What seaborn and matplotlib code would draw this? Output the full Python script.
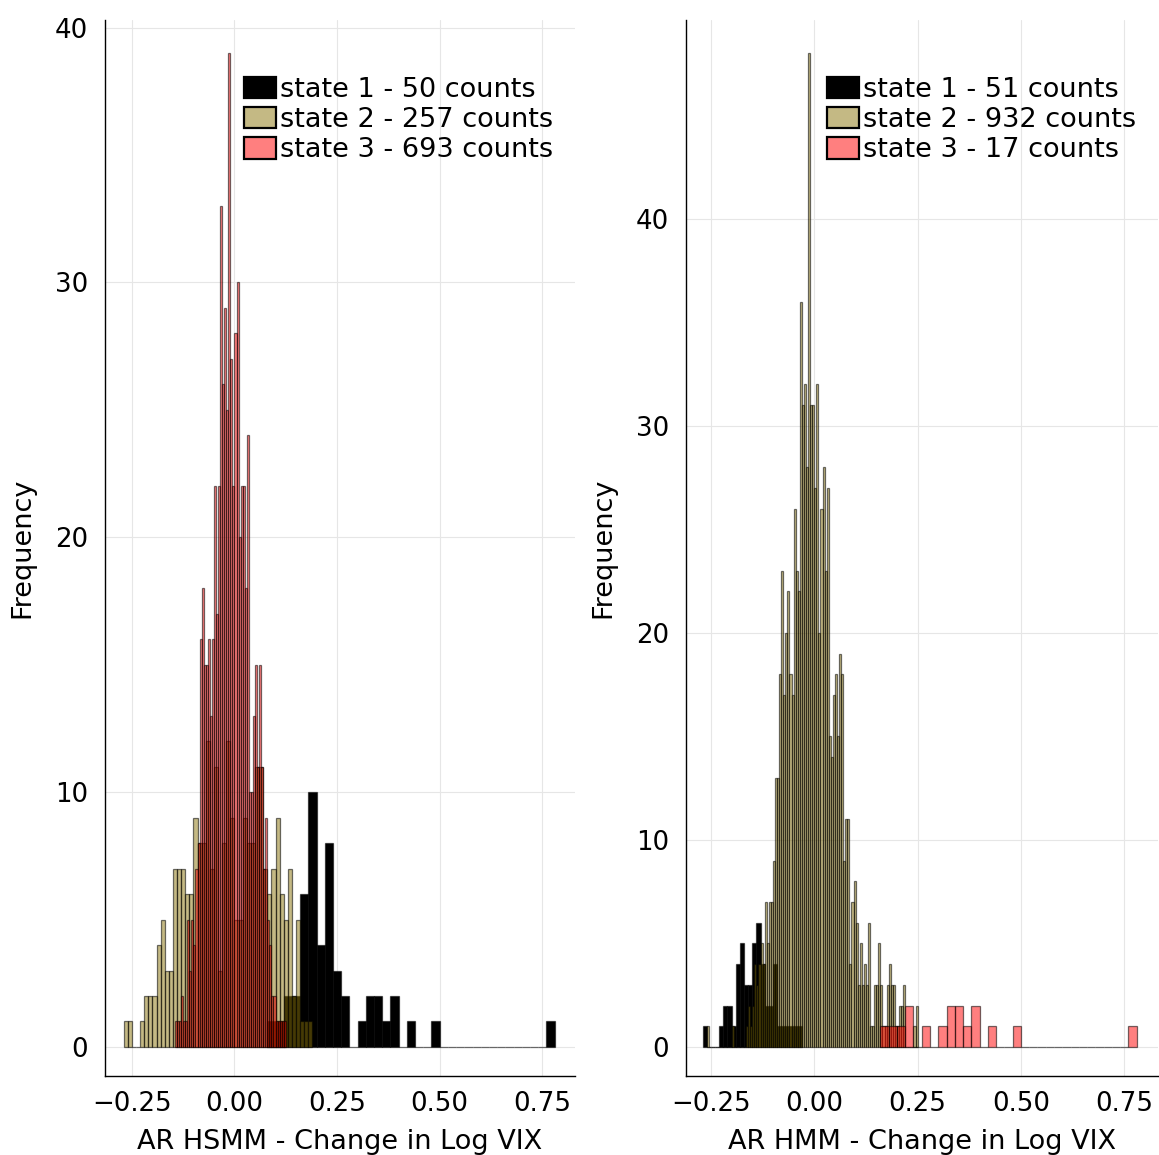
import numpy as np
import pandas as pd
import seaborn as sns
import matplotlib
matplotlib.use("Agg")
import matplotlib.pyplot as plt
from matplotlib.patches import Patch

# ---------------- data (bin starts, widths, counts) ----------------
# Left panel: AR HSMM
hsmm_s1_start, hsmm_s1_width = 0.08, 0.02
hsmm_s1_counts = [1, 1, 2, 2, 6, 10, 4, 8, 3, 2, 0, 1, 2, 2, 1, 2, 0, 1, 0, 0, 1,
                  0, 0, 0, 0, 0, 0, 0, 0, 0, 0, 0, 0, 0, 1]

hsmm_s2_start, hsmm_s2_width = -0.27, 0.01
hsmm_s2_counts = [1, 1, 0, 0, 1, 2, 2, 2, 4, 5, 3, 3, 7, 7, 7, 6, 6, 9,
                  8, 8, 12, 7, 11, 3, 8, 12, 9, 5, 5, 9, 8, 8, 11, 11, 7,
                  6, 7, 9, 6, 5, 7, 2, 5, 1, 1, 1]

hsmm_s3_start, hsmm_s3_width = -0.145, 0.005
hsmm_s3_counts = [1, 1, 1, 2, 1, 1, 5, 3, 5, 4,
                  7, 8, 16, 18, 15, 15, 16, 13, 16, 22,
                  17, 22, 33, 26, 29, 25, 39, 27, 22, 28,
                  30, 20, 22, 22, 18, 24, 10, 10, 13, 15,
                  11, 15, 11, 7, 9, 5, 4, 2, 2, 1,
                  1, 1, 1, 1]

# Right panel: AR HMM
hmm_s1_start, hmm_s1_width = -0.27, 0.01
hmm_s1_counts = [1, 0, 0, 0, 1, 2, 2, 1, 4, 5, 3, 3, 5, 6, 4, 2, 2, 4,
                 1, 1, 1, 1, 1, 1]

hmm_s2_start, hmm_s2_width = -0.26, 0.005
hmm_s2_counts = [1, 0, 0, 0, 0, 0, 0, 0, 0, 0, 0, 0,
                 1, 0, 0, 0, 0, 0, 0, 1, 2, 1, 2, 4, 3, 4, 5, 4, 7, 5, 7, 7,
                 9, 13, 13, 18, 23, 17, 20, 22, 18, 17,
                 26, 23, 22, 36, 31, 32, 28, 48, 31, 31,
                 27, 32, 20, 26, 28, 23, 27, 15, 14, 17,
                 18, 15, 19, 18, 9, 11, 11, 4, 7, 8,
                 6, 3, 5, 3, 4, 3, 6, 1, 1, 3,
                 3, 5, 3, 1, 1, 3, 4, 3, 3, 1,
                 1, 2, 2, 3, 0, 0, 0, 0, 1, 2]

hmm_s3_start, hmm_s3_width = 0.16, 0.02
hmm_s3_counts = [1, 1, 1, 2, 0, 1, 0, 1, 2, 2, 1, 2, 0, 1, 0, 0, 1,
                 0, 0, 0, 0, 0, 0, 0, 0, 0, 0, 0, 0, 0, 1]

legend_left = ["state 1 - 50 counts", "state 2 - 257 counts", "state 3 - 693 counts"]
legend_right = ["state 1 - 51 counts", "state 2 - 932 counts", "state 3 - 17 counts"]
xlabels = ["AR HSMM - Change in Log VIX", "AR HMM - Change in Log VIX"]

# ---------------- style ----------------
C1 = (0.0, 0.0, 0.0, 1.0)
C2 = (0.545, 0.46, 0.04, 0.5)
C3 = (1.0, 0.0, 0.0, 0.5)
EDGE = (0.0, 0.0, 0.0, 0.55)

sns.set_style("white")
plt.rcParams["font.family"] = ["DejaVu Sans"]
plt.rcParams["text.color"] = "black"
plt.rcParams["axes.labelcolor"] = "black"
plt.rcParams["xtick.color"] = "black"
plt.rcParams["ytick.color"] = "black"

fig = plt.figure(figsize=(11.59, 11.55), dpi=100)
W, H = 1159, 1155
axL = fig.add_axes([105 / W, (H - 1076) / H, 470 / W, 1056 / H])
axR = fig.add_axes([686 / W, (H - 1076) / H, 472 / W, 1056 / H])


def draw(ax, start, width, counts, face):
    counts = np.asarray(counts, dtype=float)
    n = len(counts)
    edges = (start + width * np.arange(n + 1)).tolist()
    centers = start + width * (np.arange(n) + 0.5)
    df = pd.DataFrame({"x": centers, "w": counts})
    sns.histplot(data=df, x="x", weights="w", bins=edges, ax=ax,
                 stat="count", element="bars", fill=True,
                 color=face[:3], alpha=face[3], edgecolor=EDGE, linewidth=0.9)


panels = [
    (axL, [(hsmm_s1_start, hsmm_s1_width, hsmm_s1_counts, C1),
           (hsmm_s2_start, hsmm_s2_width, hsmm_s2_counts, C2),
           (hsmm_s3_start, hsmm_s3_width, hsmm_s3_counts, C3)],
     legend_left, xlabels[0], (-0.3155, 0.8297), (-1.14, 40.3)),
    (axR, [(hmm_s1_start, hmm_s1_width, hmm_s1_counts, C1),
           (hmm_s2_start, hmm_s2_width, hmm_s2_counts, C2),
           (hmm_s3_start, hmm_s3_width, hmm_s3_counts, C3)],
     legend_right, xlabels[1], (-0.3104, 0.8316), (-1.4, 49.6)),
]

for ax, series, labels, xlab, xlim, ylim in panels:
    for start, width, counts, face in series:
        draw(ax, start, width, counts, face)
    ax.set_xlim(*xlim)
    ax.set_ylim(*ylim)
    ax.set_xticks([-0.25, 0.0, 0.25, 0.5, 0.75])
    ax.set_xticklabels(["\u22120.25", "0.00", "0.25", "0.50", "0.75"])
    ax.set_yticks([0, 10, 20, 30, 40])
    ax.grid(True, color=(0.9, 0.9, 0.9), linewidth=0.8)
    ax.set_axisbelow(True)
    for s in ["top", "right"]:
        ax.spines[s].set_visible(False)
    for s in ["left", "bottom"]:
        ax.spines[s].set_color("black")
        ax.spines[s].set_linewidth(1.0)
    ax.tick_params(axis="both", direction="in", length=4, width=0.8,
                   labelsize=18.7, colors="black")
    ax.tick_params(axis="x", pad=10.5)
    ax.tick_params(axis="y", pad=12)
    ax.set_xlabel(xlab, fontsize=19.5, labelpad=9)
    ax.set_ylabel("Frequency", fontsize=19.5, labelpad=14.5)
    handles = [Patch(facecolor=c, edgecolor="black", linewidth=1.6)
               for c in (C1, C2, C3)]
    ax.legend(handles, labels, loc="upper right", frameon=False,
              fontsize=19.5, handlelength=1.2, handleheight=0.85,
              handletextpad=0.15, labelspacing=0.155, borderaxespad=0.4,
              bbox_to_anchor=(1.0, 0.967))

fig.savefig("out.png", dpi=100, facecolor="white")
